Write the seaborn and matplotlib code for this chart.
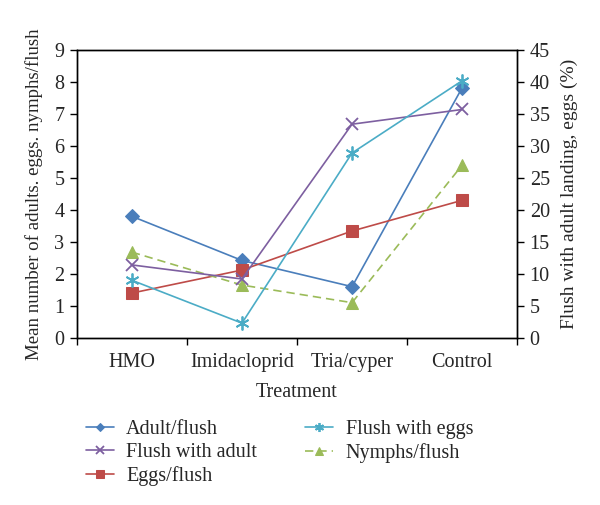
import pandas as pd
import matplotlib
matplotlib.use("Agg")
import matplotlib.pyplot as plt
import seaborn as sns

# Données
treatments = ["HMO", "Imidacloprid", "Tria/cyper", "Control"]
adult_flush = [3.8, 2.42, 1.6, 7.82]
eggs_flush = [1.4, 2.12, 3.34, 4.3]
nymphs_flush = [2.68, 1.65, 1.1, 5.4]
flush_with_adult = [11.4, 9.2, 33.4, 35.7]   # axe de droite (%)
flush_with_eggs = [9.0, 2.3, 28.9, 40.2]     # axe de droite (%)

sns.set_theme(style="white")
plt.rcParams['font.family'] = ['Liberation Serif', 'DejaVu Serif']

c_blue = "#4A7EBB"
c_purple = "#7D5FA0"
c_red = "#BE4B48"
c_cyan = "#4BACC6"
c_green = "#9BBB59"
fs = 14.5

fig = plt.figure(figsize=(6, 5.05), dpi=100)
ax = fig.add_axes([0.128, 0.331, 0.734, 0.570])
ax2 = ax.twinx()

pos = list(range(len(treatments)))
left = pd.DataFrame({"pos": pos, "adult": adult_flush, "eggs": eggs_flush, "nymphs": nymphs_flush})
right = pd.DataFrame({"pos": pos, "fadult": flush_with_adult, "feggs": flush_with_eggs})

sns.lineplot(data=left, x="pos", y="adult", ax=ax, color=c_blue, marker="D", markersize=7,
             markeredgecolor=c_blue, linewidth=1.2, label="Adult/flush", legend=False)
sns.lineplot(data=right, x="pos", y="fadult", ax=ax2, color=c_purple, marker="x", markersize=9,
             markeredgecolor=c_purple, markeredgewidth=1.3, linewidth=1.2,
             label="Flush with adult", legend=False)
sns.lineplot(data=left, x="pos", y="eggs", ax=ax, color=c_red, marker="s", markersize=8,
             markeredgecolor=c_red, linewidth=1.2, label="Eggs/flush", legend=False)
sns.lineplot(data=right, x="pos", y="feggs", ax=ax2, color=c_cyan, marker=(6, 2, 0), markersize=10,
             markeredgecolor=c_cyan, markeredgewidth=1.3, linewidth=1.2,
             label="Flush with eggs", legend=False)
sns.lineplot(data=left, x="pos", y="nymphs", ax=ax, color=c_green, marker="^", markersize=9,
             markeredgecolor=c_green, linewidth=1.2, linestyle=(0, (5, 3)),
             label="Nymphs/flush", legend=False)

ax.set_xlim(-0.5, 3.5)
ax.set_ylim(0, 9)
ax2.set_ylim(0, 45)
ax.set_yticks(range(0, 10))
ax2.set_yticks(range(0, 50, 5))
ax.set_xticks(pos)
ax.set_xticklabels(treatments, fontsize=fs)
ax.set_xticks([-0.5, 0.5, 1.5, 2.5, 3.5], minor=True)
ax.tick_params(axis="x", which="major", length=0, pad=11)
ax.tick_params(axis="x", which="minor", length=5, width=1, color="black", direction="out", bottom=True)
ax.tick_params(axis="y", length=5, width=1, color="black", direction="out", left=True, labelsize=fs, pad=4)
ax2.tick_params(axis="y", length=5, width=1, color="black", direction="out", right=True, labelsize=fs, pad=4)

ax.set_xlabel("Treatment", fontsize=fs, labelpad=8)
ax.set_ylabel("Mean number of adults. eggs. nymphs/flush", fontsize=13.6, labelpad=8)
ax2.set_ylabel("Flush with adult landing, eggs (%)", fontsize=14, labelpad=8)

for a in (ax, ax2):
    for s in a.spines.values():
        s.set_color("black")
        s.set_linewidth(1)
    a.grid(False)

h1, l1 = ax.get_legend_handles_labels()
h2, l2 = ax2.get_legend_handles_labels()
hd = dict(zip(l1 + l2, h1 + h2))
order = ["Adult/flush", "Flush with adult", "Eggs/flush", "Flush with eggs", "Nymphs/flush"]
fig.legend([hd[k] for k in order], order, ncol=2, loc="upper left", bbox_to_anchor=(0.143, 0.169),
           frameon=False, fontsize=fs, handlelength=1.4, markerscale=0.65,
           columnspacing=2.4, labelspacing=0.2, handletextpad=0.6, borderaxespad=0, borderpad=0)

fig.savefig("out.png", dpi=100)
